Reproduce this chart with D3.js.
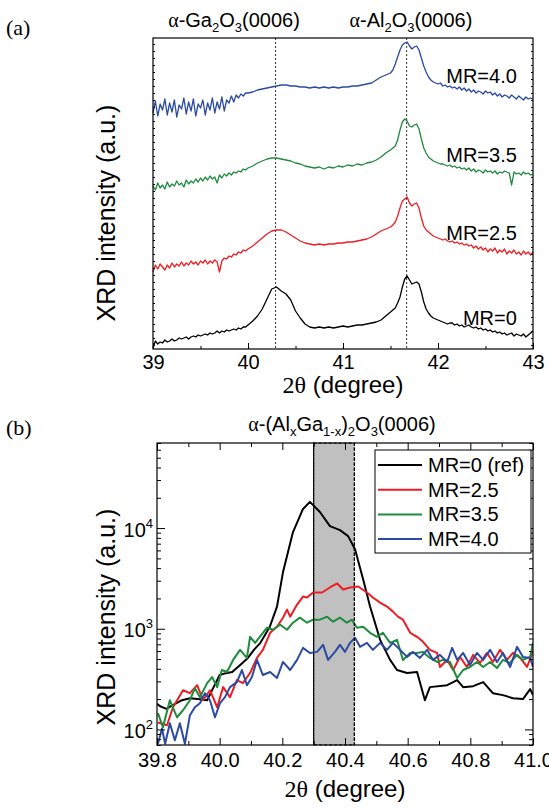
<!DOCTYPE html>
<html><head><meta charset="utf-8">
<script src="https://cdn.jsdelivr.net/npm/d3@7"></script>
<style>
body{margin:0;background:#fff}
svg text{font-family:"Liberation Sans",Arial,sans-serif;fill:#000}
.serif{font-family:"Liberation Serif","Times New Roman",serif}
</style></head><body>
<svg id="c" width="549" height="809"></svg>
<script>
// ---------- Panel (a) data ----------
const xA = [39.000,39.025,39.050,39.075,39.100,39.125,39.150,39.175,39.200,39.225,
39.250,39.275,39.300,39.325,39.350,39.375,39.400,39.425,39.450,39.475,
39.500,39.525,39.550,39.575,39.600,39.625,39.650,39.675,39.700,39.725,
39.750,39.775,39.800,39.825,39.850,39.875,39.900,39.925,39.950,39.975,
40.00,40.05,40.10,40.15,40.20,40.25,40.30,40.35,40.40,40.45,
40.50,40.55,40.60,40.65,40.70,40.75,40.80,40.85,40.90,40.95,
41.00,41.05,41.10,41.15,41.20,41.25,41.30,41.35,41.40,41.45,
41.500,41.525,41.550,41.575,41.600,41.625,41.650,41.675,41.700,41.725,41.750,41.775,41.800,41.825,41.850,41.875,41.900,41.925,41.950,
42.000,42.025,42.050,42.075,42.100,42.125,42.150,42.175,42.200,42.225,
42.250,42.275,42.300,42.325,42.350,42.375,42.400,42.425,42.450,42.475,
42.500,42.525,42.550,42.575,42.600,42.625,42.650,42.675,42.700,42.725,
42.750,42.775,42.800,42.825,42.850,42.875,42.900,42.925,42.950,42.975,43.000];
const aMR0 = [1,8,5,7,6,9,7,8,10,8,9,11,10,11,12,10,12,13,12,14,
13,14,15,14,16,15,16,18,16,18,17,19,18,19,20,19,21,20,22,22,
24,28,33,40,50,60,62,58,55,49,38,31,25,22,21,22,21,22,21,22,
23,22,23,24,24,25,26,27,29,33,
37,39,41,46,52,62,70,73,69,65,66,67,65,57,47,40,36,33,31,
29,28,27,26,25,26,26,24,25,23,24,22,23,24,22,21,22,20,21,19,
20,18,19,17,18,16,17,15,16,14,15,16,13,15,14,13,15,12,14,16,18];
const aMR25 = [77,84,80,85,82,79,84,81,86,82,85,83,87,83,86,84,88,85,87,84,
88,86,89,85,88,86,89,87,77,88,91,90,93,92,95,94,97,96,99,98,
100,103,107,111,115,118,119,119,117,114,111,108,106,105,104,105,104,105,105,106,
106,107,107,108,109,110,112,115,118,120,
122,124,127,133,141,148,150,152,146,143,145,146,141,131,123,119,117,115,113,
111,110,109,110,108,107,108,106,107,105,106,104,105,103,104,101,103,100,102,99,
101,97,100,98,101,96,99,97,100,95,98,96,99,95,97,94,98,95,97,94,97];
const aMR35 = [163,159,166,161,164,160,167,162,165,163,168,164,166,162,169,165,168,166,170,167,
171,168,172,169,173,170,172,166,174,171,175,173,176,174,177,176,178,177,180,179,
181,183,186,188,190,191,191,190,189,188,186,185,183,182,181,182,180,182,181,183,
182,184,183,185,184,186,187,189,192,196,
199,201,203,209,219,227,230,228,223,222,224,225,220,210,201,196,192,190,188,
186,185,185,184,183,184,182,183,181,182,180,181,179,181,178,180,177,179,178,176,
179,177,178,176,178,175,177,176,178,177,176,164,177,175,176,174,177,175,176,174,175];
const aMR40 = [236,248,233,245,239,250,234,246,237,249,232,244,240,251,235,247,238,250,233,245,
241,249,234,246,239,251,236,247,240,252,238,249,246,253,247,254,251,255,253,256,
256,257,259,260,261,262,263,264,264,263,263,262,262,261,262,261,262,261,262,261,
262,262,263,263,264,265,266,269,272,274,
276,279,285,292,299,304,306,307,303,300,302,303,299,291,283,277,272,269,267,
265,266,263,264,262,263,261,262,260,262,259,261,258,260,257,259,256,258,257,255,
258,256,257,254,256,253,255,252,254,253,251,254,252,250,253,251,249,252,250,251,250];
const aLabels = ["MR=0","MR=2.5","MR=3.5","MR=4.0"];
const aLabelY = [24,109,187,266];
const aTicks = [39,40,41,42,43];
const aMinor = [39.5,40.5,41.5,42.5];
const refLines = [40.29,41.67];

// ---------- Panel (b) data ----------
const bMR0 = [[39.800,180],[39.810,170],[39.830,160],[39.850,174],[39.880,195],[39.905,204],[39.930,200],[39.960,195],[39.985,280],[40.000,347],[40.020,362],[40.040,372],[40.070,450],[40.090,513],[40.110,620],[40.130,724],[40.160,1047],[40.183,1660],[40.202,3631],[40.234,9120],[40.266,15490],[40.288,18200],[40.320,14450],[40.352,10470],[40.384,9550],[40.410,8318],[40.432,6166],[40.458,3090],[40.480,1660],[40.512,776],[40.544,490],[40.566,389],[40.598,363],[40.630,372],[40.655,195],[40.671,263],[40.726,275],[40.758,309],[40.777,263],[40.809,269],[40.841,295],[40.872,229],[40.904,219],[40.936,204],[40.968,200],[40.991,251],[41.000,219]];
const bMR25 = [[39.803,117],[39.832,110],[39.851,166],[39.883,245],[39.905,229],[39.928,275],[39.947,195],[39.969,245],[39.992,166],[40.011,263],[40.033,209],[40.055,309],[40.074,288],[40.097,363],[40.119,513],[40.138,617],[40.161,912],[40.183,1047],[40.202,1288],[40.215,1549],[40.225,1318],[40.247,1738],[40.266,2089],[40.279,2042],[40.298,2291],[40.327,2291],[40.352,2570],[40.375,2818],[40.394,2455],[40.416,2570],[40.442,2630],[40.470,2291],[40.489,2042],[40.512,1820],[40.534,1660],[40.553,1479],[40.569,1318],[40.585,1230],[40.608,912],[40.630,832],[40.649,741],[40.671,617],[40.694,575],[40.703,417],[40.726,490],[40.745,389],[40.767,525],[40.789,417],[40.809,550],[40.831,457],[40.853,575],[40.872,468],[40.895,617],[40.917,490],[40.936,575],[40.959,513],[40.981,417],[41.000,589]];
const bMR35 = [[39.803,145],[39.819,105],[39.841,195],[39.864,132],[39.883,155],[39.905,195],[39.921,257],[39.937,209],[39.960,288],[39.976,331],[39.992,263],[40.007,389],[40.023,372],[40.043,490],[40.065,617],[40.087,513],[40.097,832],[40.113,724],[40.138,912],[40.151,1023],[40.170,977],[40.193,1096],[40.215,977],[40.234,1148],[40.256,1288],[40.279,1148],[40.298,1230],[40.320,1230],[40.343,1318],[40.362,1175],[40.384,1288],[40.406,1148],[40.422,1230],[40.438,1023],[40.458,1047],[40.480,912],[40.502,832],[40.521,912],[40.544,724],[40.566,776],[40.585,490],[40.608,575],[40.630,575],[40.649,589],[40.671,513],[40.694,468],[40.713,490],[40.735,468],[40.758,324],[40.777,389],[40.799,417],[40.821,468],[40.841,417],[40.863,468],[40.885,407],[40.904,490],[40.927,457],[40.949,550],[40.968,490],[40.991,525],[41.000,724]];
const bMR40 = [[39.803,72],[39.816,102],[39.826,72],[39.841,115],[39.857,78],[39.873,115],[39.889,72],[39.905,138],[39.921,166],[39.937,182],[39.953,229],[39.969,195],[39.985,132],[40.001,182],[40.017,209],[40.033,263],[40.055,295],[40.071,389],[40.087,275],[40.103,331],[40.119,490],[40.138,347],[40.161,372],[40.183,324],[40.202,468],[40.225,389],[40.247,490],[40.266,646],[40.288,575],[40.311,589],[40.330,692],[40.346,490],[40.368,589],[40.384,692],[40.400,589],[40.416,724],[40.432,813],[40.448,661],[40.470,724],[40.489,617],[40.512,724],[40.534,617],[40.553,724],[40.576,617],[40.598,525],[40.617,589],[40.639,513],[40.662,617],[40.681,490],[40.703,550],[40.726,468],[40.742,646],[40.758,490],[40.777,575],[40.799,437],[40.821,575],[40.841,490],[40.863,617],[40.885,468],[40.904,575],[40.927,417],[40.949,661],[40.968,525],[40.991,513],[41.000,417]];
const bLegend = ["MR=0 (ref)","MR=2.5","MR=3.5","MR=4.0"];
const bBand = [40.30,40.43];
const bXTicks = [39.8,40.0,40.2,40.4,40.6,40.8,41.0];
const bXMinor = [39.9,40.1,40.3,40.5,40.7,40.9];
const bYTicks = [100,1000,10000];
const bYExp = ["2","3","4"];
const bYMinor = [70,80,90,200,300,400,500,600,700,800,900,2000,3000,4000,5000,6000,7000,8000,9000,20000,30000,40000,50000,60000,70000];
const colors = ["#000000","#ee1d24","#1e8c3c","#2b4ba3"];

// ---------- drawing ----------
const svg = d3.select("#c");
svg.append("rect").attr("width",549).attr("height",809).attr("fill","#fff");

function styleAxis(g, size){
  g.select(".domain").remove();
  g.selectAll("line").attr("stroke","#000").attr("stroke-width",1);
  g.selectAll("text").attr("font-size",size).attr("fill","#000").attr("font-family","Liberation Sans, Arial, sans-serif");
}

// ===== Panel (a) =====
const A = {l:153, r:533, t:38, b:349};
const xa = d3.scaleLinear().domain([39,43]).range([A.l,A.r]);
const ya = d3.scaleLinear().domain([0,311]).range([A.b,A.t]);

refLines.forEach(v=>{
  svg.append("line").attr("x1",xa(v)).attr("x2",xa(v)).attr("y1",A.t).attr("y2",A.b)
    .attr("stroke","#333").attr("stroke-width",1).attr("stroke-dasharray","2,2");
});
const lineA = d3.line().x((d,i)=>xa(xA[i])).y(d=>ya(d));
[aMR0,aMR25,aMR35,aMR40].forEach((s,i)=>{
  svg.append("path").attr("d",lineA(s)).attr("fill","none").attr("stroke",colors[i]).attr("stroke-width",1.3).attr("stroke-linejoin","round");
});
aLabels.forEach((t,i)=>{
  svg.append("text").attr("x",xa(42.83)).attr("y",ya(aLabelY[i])).attr("text-anchor","end").attr("font-size",20).text(t);
});
// axes (a)
styleAxis(svg.append("g").attr("transform",`translate(0,${A.b})`)
  .call(d3.axisBottom(xa).tickValues(aTicks).tickSize(-6).tickPadding(6).tickFormat(d3.format("d"))),20);
styleAxis(svg.append("g").attr("transform",`translate(0,${A.b})`)
  .call(d3.axisBottom(xa).tickValues(aMinor).tickSize(-3).tickFormat("")),20);
styleAxis(svg.append("g").attr("transform",`translate(${A.l},0)`)
  .call(d3.axisLeft(ya).tickValues(d3.range(4,311,7)).tickSize(-2).tickFormat("")),20);
styleAxis(svg.append("g").attr("transform",`translate(${A.r},0)`)
  .call(d3.axisRight(ya).tickValues(d3.range(4,311,7)).tickSize(-2).tickFormat("")),20);
svg.append("rect").attr("x",A.l).attr("y",A.t).attr("width",A.r-A.l).attr("height",A.b-A.t)
  .attr("fill","none").attr("stroke","#000").attr("stroke-width",1.2);

// titles (a)
svg.append("text").attr("class","serif").attr("x",6).attr("y",35).attr("font-size",22).text("(a)");
function chemTitle(x,y,parts,size){
  const t = svg.append("text").attr("x",x).attr("y",y).attr("text-anchor","middle").attr("font-size",size);
  let shift = 0;
  parts.forEach(p=>{
    const sp = t.append("tspan").text(p.t);
    if(p.serif) sp.attr("font-family","Liberation Serif, Times New Roman, serif");
    const target = p.sub ? 5 : 0;
    if(target!==shift){ sp.attr("dy",target-shift); shift = target; }
    if(p.sub) sp.attr("font-size",size*0.65);
  });
  return t;
}
chemTitle(234,27,[{t:"α",serif:true},{t:"-Ga"},{t:"2",sub:true},{t:"O"},{t:"3",sub:true},{t:"(0006)"}],20);
chemTitle(411,27,[{t:"α",serif:true},{t:"-Al"},{t:"2",sub:true},{t:"O"},{t:"3",sub:true},{t:"(0006)"}],20);

// axis labels (a)
svg.append("text").attr("transform","translate(115,213) rotate(-90)").attr("text-anchor","middle").attr("font-size",25).text("XRD intensity (a.u.)");
const xl1 = svg.append("text").attr("x",343).attr("y",393).attr("text-anchor","middle").attr("font-size",24);
xl1.append("tspan").attr("font-family","Liberation Serif, Times New Roman, serif").text("2θ");
xl1.append("tspan").text(" (degree)");

// ===== Panel (b) =====
const B = {l:157, r:533, t:443, b:745};
const xb = d3.scaleLinear().domain([39.8,41.0]).range([B.l,B.r]);
const yb = d3.scaleLog().domain([70,70000]).range([B.b,B.t]);

svg.append("defs").append("clipPath").attr("id","clipB").append("rect")
  .attr("x",B.l).attr("y",B.t).attr("width",B.r-B.l).attr("height",B.b-B.t);

svg.append("rect").attr("x",xb(bBand[0])).attr("y",B.t).attr("width",xb(bBand[1])-xb(bBand[0])).attr("height",B.b-B.t)
  .attr("fill","#c0c0c0").attr("stroke","#000").attr("stroke-width",1.2).attr("stroke-dasharray","3,2");

const lineB = d3.line().x(d=>xb(d[0])).y(d=>yb(d[1]));
const gB = svg.append("g").attr("clip-path","url(#clipB)");
[bMR0,bMR25,bMR35,bMR40].forEach((s,i)=>{
  gB.append("path").attr("d",lineB(s)).attr("fill","none").attr("stroke",colors[i]).attr("stroke-width",2).attr("stroke-linejoin","round");
});
[bBand[0],bBand[1]].forEach(v=>{
  svg.append("line").attr("x1",xb(v)).attr("x2",xb(v)).attr("y1",B.t).attr("y2",B.b)
    .attr("stroke","#000").attr("stroke-width",1.2).attr("stroke-dasharray","3,2");
});

// axes (b)
styleAxis(svg.append("g").attr("transform",`translate(0,${B.b})`)
  .call(d3.axisBottom(xb).tickValues(bXTicks).tickSize(-7).tickPadding(8).tickFormat(d3.format(".1f"))),20);
styleAxis(svg.append("g").attr("transform",`translate(0,${B.b})`)
  .call(d3.axisBottom(xb).tickValues(bXMinor).tickSize(-4).tickFormat("")),20);
styleAxis(svg.append("g").attr("transform",`translate(0,${B.t})`)
  .call(d3.axisTop(xb).tickValues(bXTicks).tickSize(-7).tickFormat("")),20);
styleAxis(svg.append("g").attr("transform",`translate(0,${B.t})`)
  .call(d3.axisTop(xb).tickValues(bXMinor).tickSize(-4).tickFormat("")),20);
const gYL = svg.append("g").attr("transform",`translate(${B.l},0)`)
  .call(d3.axisLeft(yb).tickValues(bYTicks).tickSize(-8).tickFormat(""));
styleAxis(gYL,20);
gYL.selectAll("g.tick").each(function(d,i){
  const t = d3.select(this).append("text").attr("x",-4).attr("y",0).attr("dy","0.4em")
    .attr("text-anchor","end").attr("font-size",20).attr("fill","#000");
  t.append("tspan").text("10");
  t.append("tspan").attr("font-size",13).attr("dy",-9).text(bYExp[i]);
});
styleAxis(svg.append("g").attr("transform",`translate(${B.l},0)`)
  .call(d3.axisLeft(yb).tickValues(bYMinor).tickSize(-4).tickFormat("")),20);
styleAxis(svg.append("g").attr("transform",`translate(${B.r},0)`)
  .call(d3.axisRight(yb).tickValues(bYTicks).tickSize(-8).tickFormat("")),20);
styleAxis(svg.append("g").attr("transform",`translate(${B.r},0)`)
  .call(d3.axisRight(yb).tickValues(bYMinor).tickSize(-4).tickFormat("")),20);
svg.append("rect").attr("x",B.l).attr("y",B.t).attr("width",B.r-B.l).attr("height",B.b-B.t)
  .attr("fill","none").attr("stroke","#000").attr("stroke-width",1.2);

// legend (b)
const leg = svg.append("g").attr("transform","translate(375,450)");
leg.append("rect").attr("width",156).attr("height",103).attr("fill","#fff").attr("stroke","#000").attr("stroke-width",1);
bLegend.forEach((t,i)=>{
  const y = 15 + i*24.7;
  leg.append("line").attr("x1",3).attr("x2",47).attr("y1",y).attr("y2",y).attr("stroke",colors[i]).attr("stroke-width",2);
  leg.append("text").attr("x",53).attr("y",y+7).attr("font-size",20).text(t);
});

// titles (b)
svg.append("text").attr("class","serif").attr("x",6).attr("y",435).attr("font-size",22).text("(b)");
chemTitle(342,431,[{t:"α",serif:true},{t:"-(Al"},{t:"x",sub:true},{t:"Ga"},{t:"1-x",sub:true},{t:")"},{t:"2",sub:true},{t:"O"},{t:"3",sub:true},{t:"(0006)"}],20);
svg.append("text").attr("transform","translate(115,617) rotate(-90)").attr("text-anchor","middle").attr("font-size",25).text("XRD intensity (a.u.)");
const xl2 = svg.append("text").attr("x",345).attr("y",797).attr("text-anchor","middle").attr("font-size",24);
xl2.append("tspan").attr("font-family","Liberation Serif, Times New Roman, serif").text("2θ");
xl2.append("tspan").text(" (degree)");
</script>
</body></html>
